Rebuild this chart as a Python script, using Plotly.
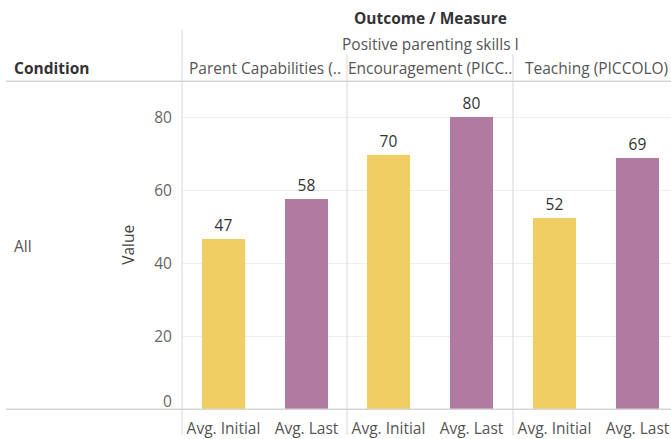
import plotly.graph_objects as go

# ---- data ----
panels = ["Parent Capabilities (..", "Encouragement (PICC..", "Teaching (PICCOLO)"]
measures = ["Avg. Initial", "Avg. Last"]
initial_vals = [46.6, 69.9, 52.4]
last_vals = [57.7, 80.3, 68.9]
y_ticks = [20, 40, 60, 80]

group_title = "Outcome / Measure"
sub_title = "Positive parenting skills I"
row_header = "Condition"
row_label = "All"
y_title = "Value"

YELLOW = "#F1CE63"
PURPLE = "#B07AA1"
FONT = "Open Sans, Noto Sans, DejaVu Sans, sans-serif"
FS = 15.5

W, H = 671, 439
px = lambda v: v / W
py = lambda v: 1 - v / H

# panel domains (paper)
edges = [182, 347, 513, 671]
domains = [[px(edges[i]), px(edges[i + 1])] for i in range(3)]
ydom = [py(413), py(82)]

fig = go.Figure()
axnames = ["x", "x2", "x3"]
for i in range(3):
    fig.add_trace(go.Bar(
        x=measures,
        y=[initial_vals[i], last_vals[i]],
        marker=dict(color=[YELLOW, PURPLE], line=dict(width=0)),
        width=0.51,
        texttemplate="%{y:.0f}",
        textposition="outside",
        textfont=dict(size=FS, color="#333333", family=FONT),
        cliponaxis=False,
        xaxis=axnames[i], yaxis="y",
        showlegend=False,
        hoverinfo="skip",
    ))

xa_common = dict(
    showgrid=False, zeroline=False, showline=False,
    ticks="outside", ticklen=5, tickcolor="rgba(0,0,0,0)",
    tickfont=dict(size=FS, color="#555555", family=FONT),
    fixedrange=True, anchor="y",
)
layout = dict(
    width=W, height=H,
    margin=dict(l=0, r=0, t=0, b=0),
    paper_bgcolor="white", plot_bgcolor="white",
    font=dict(family=FONT),
    bargap=0,
    yaxis=dict(
        domain=ydom, range=[0, 90], anchor="x",
        tickvals=y_ticks, showgrid=True, gridcolor="#EEEEEE", gridwidth=1,
        zeroline=False, showline=False,
        ticks="outside", ticklen=6, tickcolor="rgba(0,0,0,0)",
        tickfont=dict(size=FS, color="#666666", family=FONT),
        fixedrange=True,
    ),
)
full_w = (edges[2] - edges[1])  # width of a complete panel in px
for i in range(3):
    vis = edges[i + 1] - edges[i]
    span = 2 * vis / full_w
    d = dict(xa_common, domain=domains[i], range=[-0.5, -0.5 + span])
    layout["xaxis" if i == 0 else f"xaxis{i+1}"] = d
fig.update_layout(**layout)

# ---- header / frame lines ----
LINE = "#D6D6D6"
shapes = [
    dict(type="line", xref="paper", yref="paper", x0=px(6), x1=1, y0=py(82), y1=py(82),
         line=dict(color=LINE, width=1.5)),
    dict(type="line", xref="paper", yref="paper", x0=px(6), x1=1, y0=py(413), y1=py(413),
         line=dict(color=LINE, width=1.5)),
    dict(type="line", xref="paper", yref="paper", x0=px(182), x1=px(182), y0=py(30), y1=0,
         line=dict(color=LINE, width=1)),
    dict(type="line", xref="paper", yref="paper", x0=px(347), x1=px(347), y0=py(55), y1=0,
         line=dict(color=LINE, width=1)),
    dict(type="line", xref="paper", yref="paper", x0=px(513), x1=px(513), y0=py(55), y1=0,
         line=dict(color=LINE, width=1)),
]
fig.update_layout(shapes=shapes)

centers = [edges[i] + full_w / 2 for i in range(3)]


def note(text, x, y, color, xanchor="center", **kw):
    return dict(text=text, x=x, y=y, xref="paper", yref="paper", xanchor=xanchor,
                yanchor="middle", showarrow=False,
                font=dict(size=FS, color=color, family=FONT), **kw)


ann = [
    note(f"<b>{group_title}</b>", px(430), py(18), "#333333"),
    note(sub_title, px(430), py(44), "#555555"),
    note(f"<b>{row_header}</b>", px(12), py(69), "#333333", xanchor="left"),
    note(row_label, px(12), py(248), "#555555", xanchor="left"),
    note(y_title, px(128), py(247), "#444444", textangle=-90),
    dict(text="0", x=px(174), y=0, xref="paper", yref="y", xanchor="right", yanchor="bottom",
         yshift=-5, showarrow=False, font=dict(size=FS, color="#666666", family=FONT)),
]
for i, name in enumerate(panels):
    ann.append(note(name, px(centers[i]), py(69), "#555555"))
fig.update_layout(annotations=ann)

fig.write_html("out.html", config={"displayModeBar": False, "staticPlot": True},
               post_script="document.body.style.margin='0';")
